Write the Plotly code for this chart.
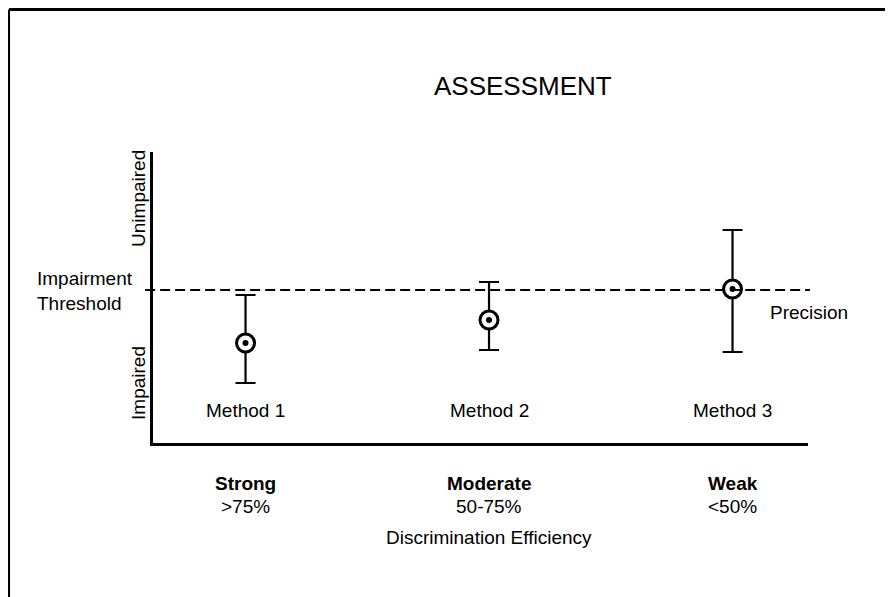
import plotly.graph_objects as go

# data (threshold = 0, arbitrary units)
methods = ["Method 1", "Method 2", "Method 3"]
xpos = [1, 2, 3]
estimate = [-5.3, -3.0, 0.1]
upper = [-0.5, 0.8, 6.0]
lower = [-9.3, -6.0, -6.2]
strength = ["Strong", "Moderate", "Weak"]
efficiency = [">75%", "50-75%", "<50%"]
threshold = 0.0

err_plus = [u - e for u, e in zip(upper, estimate)]
err_minus = [e - l for e, l in zip(estimate, lower)]

font = "Liberation Sans, Arial, sans-serif"
fs = 19

fig = go.Figure()
fig.add_trace(go.Scatter(
    x=xpos, y=estimate, mode="markers",
    marker=dict(symbol="circle", size=18, color="white", line=dict(color="black", width=3)),
    error_y=dict(type="data", symmetric=False, array=err_plus, arrayminus=err_minus,
                 color="black", thickness=2.2, width=10),
    showlegend=False, hoverinfo="skip"))
fig.add_trace(go.Scatter(
    x=xpos, y=estimate, mode="markers",
    marker=dict(symbol="circle", size=6, color="black"),
    showlegend=False, hoverinfo="skip"))

# impairment threshold
fig.add_shape(type="line", xref="paper", x0=-0.012, x1=1.003, y0=threshold, y1=threshold,
              line=dict(color="black", width=2, dash="10px,5px"))

# frame of the scanned figure (top and left only)
fig.add_shape(type="line", xref="paper", yref="paper", x0=-0.2198, x1=1.2, y0=1.49, y1=1.49,
              line=dict(color="black", width=3))
fig.add_shape(type="line", xref="paper", yref="paper", x0=-0.2198, x1=-0.2198, y0=1.49, y1=-0.53,
              line=dict(color="black", width=2))

for x, m in zip(xpos, methods):
    fig.add_annotation(x=x, y=-12.0, text=m, showarrow=False, font=dict(size=fs))
for x, s, e in zip(xpos, strength, efficiency):
    fig.add_annotation(x=x, yref="paper", y=-0.1375, yanchor="middle", text="<b>" + s + "</b>",
                       showarrow=False, font=dict(size=fs))
    fig.add_annotation(x=x, yref="paper", y=-0.2165, yanchor="middle", text=e,
                       showarrow=False, font=dict(size=fs))
fig.add_annotation(x=2, yref="paper", y=-0.326, yanchor="middle", text="Discrimination Efficiency",
                   showarrow=False, font=dict(size=fs))

fig.add_annotation(xref="paper", x=-0.023, xanchor="center", y=9.2, text="Unimpaired",
                   textangle=-90, showarrow=False, font=dict(size=fs))
fig.add_annotation(xref="paper", x=-0.023, xanchor="center", y=-9.3, text="Impaired",
                   textangle=-90, showarrow=False, font=dict(size=fs))
fig.add_annotation(xref="paper", x=-0.0275, xanchor="right", y=-0.1, text="Impairment<br>Threshold",
                   align="left", showarrow=False, font=dict(size=fs))
fig.add_annotation(xref="paper", x=0.939, xanchor="left", y=-2.2, text="Precision",
                   showarrow=False, font=dict(size=fs))

fig.add_annotation(xref="paper", yref="paper", x=0.565, y=1.227, xanchor="center", yanchor="middle",
                   text="ASSESSMENT", showarrow=False, font=dict(size=26))

fig.update_layout(
    width=885, height=589,
    margin=dict(l=145, r=85, t=144, b=154),
    paper_bgcolor="white", plot_bgcolor="white",
    font=dict(family=font, color="black", size=fs),
)
fig.update_xaxes(range=[0.62, 3.31], showline=True, linecolor="black", linewidth=2.5,
                 showgrid=False, zeroline=False, showticklabels=False, ticks="")
fig.update_yaxes(range=[-15.3, 13.8], showline=True, linecolor="black", linewidth=2.5,
                 showgrid=False, zeroline=False, showticklabels=False, ticks="")

fig.write_html("out.html")
